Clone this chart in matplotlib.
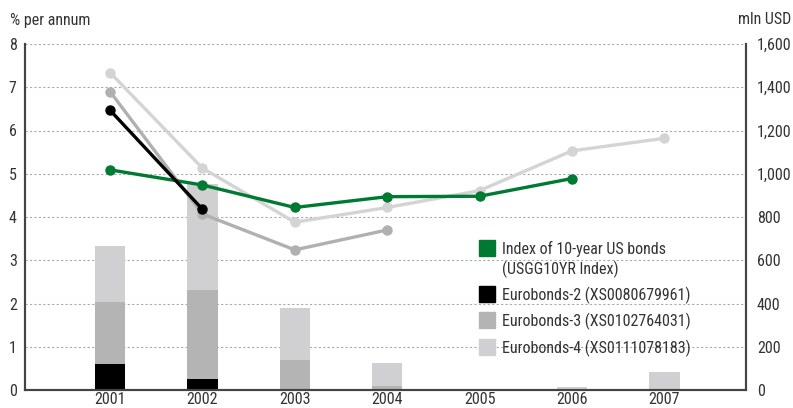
import matplotlib
matplotlib.use("Agg")
import matplotlib.pyplot as plt
from matplotlib import font_manager
from matplotlib.patches import Rectangle
import numpy as np

names = {f.name for f in font_manager.fontManager.ttflist}
fam = None
for cand in ["Liberation Sans Narrow", "DejaVu Sans Condensed", "Roboto Condensed", "Open Sans Condensed", "Roboto"]:
    if cand in names:
        fam = cand
        break
if fam is None:
    fam = "DejaVu Sans"
plt.rcParams['font.family'] = [fam, 'DejaVu Sans']

years = [2001, 2002, 2003, 2004, 2005, 2006, 2007]

# Bars: mln USD (right axis)
eb2_vol = [120, 51, 0, 0, 0, 0, 0]
eb3_vol = [286, 411, 139, 20, 0, 0, 0]
eb4_vol = [260, 490, 240, 105, 0, 14, 84]

# Lines: % per annum (left axis)
idx_years = [2001, 2002, 2003, 2004, 2005, 2006]
idx_rate = [5.09, 4.74, 4.22, 4.47, 4.48, 4.89]
eb2_years = [2001, 2002]
eb2_rate = [6.47, 4.18]
eb3_years = [2001, 2002, 2003, 2004]
eb3_rate = [6.90, 4.07, 3.24, 3.70]
eb4_years = [2001, 2002, 2003, 2004, 2005, 2006, 2007]
eb4_rate = [7.34, 5.13, 3.88, 4.22, 4.61, 5.53, 5.82]

left_ticks = [0, 1, 2, 3, 4, 5, 6, 7, 8]
right_ticks = [0, 200, 400, 600, 800, 1000, 1200, 1400, 1600]
right_labels = ["0", "200", "400", "600", "800", "1,000", "1,200", "1,400", "1,600"]

legend_labels = [["Index of 10-year US bonds", "(USGG10YR Index)"],
                 ["Eurobonds-2 (XS0080679961)"],
                 ["Eurobonds-3 (XS0102764031)"],
                 ["Eurobonds-4 (XS0111078183)"]]

c_green = "#007a33"
c_black = "#000000"
c_mid = "#b3b4b3"
c_light = "#d0d0d2"
c_mid_line = "#b0b0b0"
c_light_line = "#d4d4d4"
c_text = "#333333"
c_spine = "#444444"
legend_colors = [c_green, c_black, c_mid, c_light]

W, H = 793, 408
fig = plt.figure(figsize=(W / 100, H / 100), dpi=100)
ax = fig.add_axes([25 / W, 18 / H, (745.7 - 25) / W, (390 - 44) / H])
ax2 = ax.twinx()

ax.set_zorder(2)
ax.patch.set_visible(False)
ax2.set_zorder(1)

w = 0.33
b2 = np.array(eb2_vol, float)
b3 = np.array(eb3_vol, float)
b4 = np.array(eb4_vol, float)
ax2.bar(years, b2, width=w, color=c_black, zorder=2)
ax2.bar(years, b3, width=w, bottom=b2, color=c_mid, zorder=2)
ax2.bar(years, b4, width=w, bottom=b2 + b3, color=c_light, zorder=2)
ax2.set_ylim(0, 1600)
ax2.set_yticks(right_ticks)
ax2.set_yticklabels(right_labels)

for t in right_ticks[1:]:
    ax2.axhline(t, color="#aaaaaa", lw=0.8, ls=(0, (2, 2)), zorder=1)

lw = 2.4
ms = 6.5
ax.plot(eb4_years, eb4_rate, color=c_light_line, lw=lw, marker='o', ms=ms, zorder=3)
ax.plot(eb3_years, eb3_rate, color=c_mid_line, lw=lw, marker='o', ms=ms, zorder=4)
ax.plot(idx_years, idx_rate, color=c_green, lw=lw, marker='o', ms=ms, zorder=5)
ax.plot(eb2_years, eb2_rate, color=c_black, lw=lw, marker='o', ms=ms, zorder=6)

ax.set_ylim(0, 8)
ax.set_yticks(left_ticks)
ax.set_xlim(2000.08, 2007.88)
ax.set_xticks(years)
ax.set_xticklabels([str(y) for y in years])

for a in (ax, ax2):
    a.spines['top'].set_visible(False)
    a.tick_params(length=0, labelsize=11.5, colors=c_text)
    for s in ('left', 'right', 'bottom'):
        a.spines[s].set_color(c_spine)
        a.spines[s].set_linewidth(1.5)
ax.tick_params(axis='y', pad=6)
ax2.tick_params(axis='y', pad=8)
ax.tick_params(axis='x', pad=1.5)

fig.text(10 / W, 1 - 20 / H, "% per annum", fontsize=11.5, color=c_text, va='center', ha='left')
fig.text(791 / W, 1 - 20 / H, "mln USD", fontsize=11.5, color=c_text, va='center', ha='right')

# Legend drawn manually (square swatches aligned with first text line)
patch_tops = [240, 286, 312, 339]
line_gap = 20
for col, top, lines in zip(legend_colors, patch_tops, legend_labels):
    fig.patches.append(Rectangle((479 / W, 1 - (top + 16) / H), 16 / W, 16 / H,
                                 transform=fig.transFigure, color=col, figure=fig))
    for i, txt in enumerate(lines):
        fig.text(502 / W, 1 - (top + 9 + i * line_gap) / H, txt, fontsize=11.5,
                 color=c_text, va='center', ha='left')

fig.savefig("out.png", dpi=100)
